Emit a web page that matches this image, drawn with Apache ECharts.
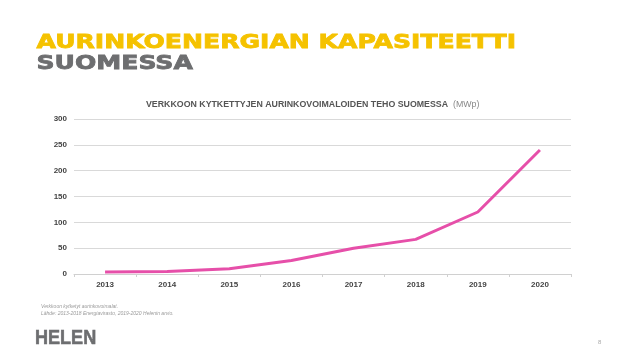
<!DOCTYPE html>
<html><head><meta charset="utf-8">
<script src="https://cdn.jsdelivr.net/npm/echarts@6/dist/echarts.min.js"></script>
<style>html,body{margin:0;padding:0;background:#fff;}#c{width:638px;height:359px;}</style>
</head><body><div id="c"></div>
<script>
const years = ['2013','2014','2015','2016','2017','2018','2019','2020'];
const capacity = [4, 5, 10, 26, 50, 67, 120, 240];
const yTicks = [0, 50, 100, 150, 200, 250, 300];

const chart = echarts.init(document.getElementById('c'), null, {renderer:'canvas'});
chart.setOption({
  backgroundColor:'#fff',
  animation:false,
  graphic:[
    {type:'text', x:36.5, y:43, scaleX:1.255, style:{text:'AURINKOENERGIAN KAPASITEETTI', fill:'#F5C200',
      stroke:'#F5C200', lineWidth:0.8, font:'bold 20px "DejaVu Sans"', verticalAlign:'middle'}},
    {type:'text', x:36.5, y:64, scaleX:1.255, style:{text:'SUOMESSA', fill:'#6D6E70',
      stroke:'#6D6E70', lineWidth:0.8, font:'bold 20px "DejaVu Sans"', verticalAlign:'middle'}},
    {type:'text', x:35, y:338.5, scaleX:0.86, style:{text:'HELEN', fill:'#6D6E70',
      stroke:'#6D6E70', lineWidth:0.6, font:'bold 21px "Liberation Sans"', verticalAlign:'middle'}}
  ],
  title:[
    {text:'{b|VERKKOON KYTKETTYJEN AURINKOVOIMALOIDEN TEHO SUOMESSA} {n|(MWp)}', left:146, top:96, padding:0,
     textStyle:{rich:{b:{color:'#555', fontSize:8.8, fontWeight:'bold', fontFamily:'Liberation Sans'},
                      n:{color:'#888', fontSize:8.8, fontWeight:'normal', fontFamily:'Liberation Sans'}}}},
    {text:'Verkkoon kytketyt aurinkovoimalat.\nLähde: 2013-2018 Energiavirasto, 2019-2020 Helenin arvio.', left:41, top:303, padding:0,
     textStyle:{color:'#999', fontSize:5, fontStyle:'italic', fontWeight:'normal', lineHeight:7, fontFamily:'Liberation Sans'}},
    {text:'8', left:598, top:339, padding:0,
     textStyle:{color:'#aaa', fontSize:6, fontWeight:'normal', fontFamily:'Liberation Sans'}}
  ],
  grid:{left:74, right:67, top:119, bottom:85, containLabel:false},
  xAxis:{type:'category', data:years, boundaryGap:true,
    axisLine:{lineStyle:{color:'#d0d0d0'}},
    axisTick:{show:true, length:3, lineStyle:{color:'#d0d0d0'}},
    axisLabel:{color:'#444', fontSize:8, fontWeight:'bold', margin:7, fontFamily:'Liberation Sans'}},
  yAxis:{type:'value', min:yTicks[0], max:yTicks[yTicks.length-1], interval:50,
    axisLine:{show:false}, axisTick:{show:false},
    splitLine:{lineStyle:{color:'#d9d9d9'}},
    axisLabel:{color:'#444', fontSize:8, fontWeight:'bold', margin:7, fontFamily:'Liberation Sans'}},
  series:[{type:'line', data:capacity, symbol:'none', smooth:false,
    lineStyle:{color:'#E64FA9', width:3}}]
});
</script></body></html>
